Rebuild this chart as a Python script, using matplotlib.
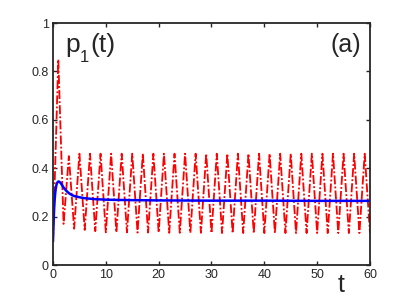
import matplotlib
matplotlib.use("Agg")
import matplotlib.pyplot as plt

plt.rcParams["font.family"] = ["Liberation Sans", "DejaVu Sans"]

# red dash-dot curve, sampled at t = 0, 1, ..., 60
t_red = list(range(61))
p_red = [0.10, 0.85, 0.17, 0.45, 0.15, 0.46, 0.145, 0.46, 0.14, 0.46,
         0.135, 0.46, 0.135, 0.46, 0.135, 0.46, 0.134, 0.46, 0.134, 0.46,
         0.134, 0.46, 0.133, 0.46, 0.133, 0.46, 0.133, 0.46, 0.133, 0.46,
         0.132, 0.46, 0.132, 0.46, 0.132, 0.46, 0.132, 0.46, 0.132, 0.46,
         0.132, 0.46, 0.132, 0.46, 0.132, 0.46, 0.132, 0.46, 0.132, 0.46,
         0.132, 0.46, 0.132, 0.46, 0.132, 0.46, 0.132, 0.46, 0.132, 0.46,
         0.132]

# blue solid curve
t_blue = [0, 0.1, 0.2, 0.3, 0.4, 0.5, 0.6, 0.7, 0.8, 0.9, 1.0, 1.1, 1.2,
          1.4, 1.6, 1.8, 2.0, 2.5, 3.0, 3.5, 4.0, 5.0, 6.0, 7.0, 8.0,
          10.0, 12.0, 15.0, 20.0, 30.0, 40.0, 50.0, 60.0]
p_blue = [0.10, 0.17, 0.225, 0.265, 0.293, 0.313, 0.326, 0.335, 0.340, 0.343,
          0.345, 0.345, 0.344, 0.340, 0.334, 0.327, 0.320, 0.307, 0.297, 0.290,
          0.285, 0.280, 0.276, 0.274, 0.272, 0.270, 0.269, 0.268, 0.267, 0.266,
          0.266, 0.265, 0.265]

x_ticks = [0, 10, 20, 30, 40, 50, 60]
y_ticks = [0, 0.2, 0.4, 0.6, 0.8, 1]
y_labels = ["0", "0.2", "0.4", "0.6", "0.8", "1"]

W, H = 409, 298
fig = plt.figure(figsize=(W / 100, H / 100), dpi=100)
ax = fig.add_axes([0.1296, 0.1107, 0.775, 0.8121])

ax.plot(t_red, p_red, color="red", linewidth=1.3, dashes=(5, 1.2, 1, 1.2))
ax.plot(t_blue, p_blue, color="blue", linewidth=1.8)

ax.set_xlim(0, 60)
ax.set_ylim(0, 1)
ax.set_xticks(x_ticks)
ax.set_yticks(y_ticks)
ax.set_yticklabels(y_labels)
ax.tick_params(direction="in", top=True, right=True, length=3, width=1,
               labelsize=9, colors="#262626", pad=3)
for s in ax.spines.values():
    s.set_linewidth(1.3)
    s.set_color("#262626")


def px_text(x, y, s, size, **kw):
    # place text by pixel position (y measured from top)
    fig.text(x / W, 1 - y / H, s, fontsize=size, va="baseline",
             ha="left", color="#262626", **kw)


px_text(65, 52, "p", 19)
px_text(80, 62, "1", 12)
px_text(90, 52, "(t)", 19)
px_text(331, 52, "(a)", 18)
px_text(338, 292, "t", 18)

fig.savefig("out.png", dpi=100)
